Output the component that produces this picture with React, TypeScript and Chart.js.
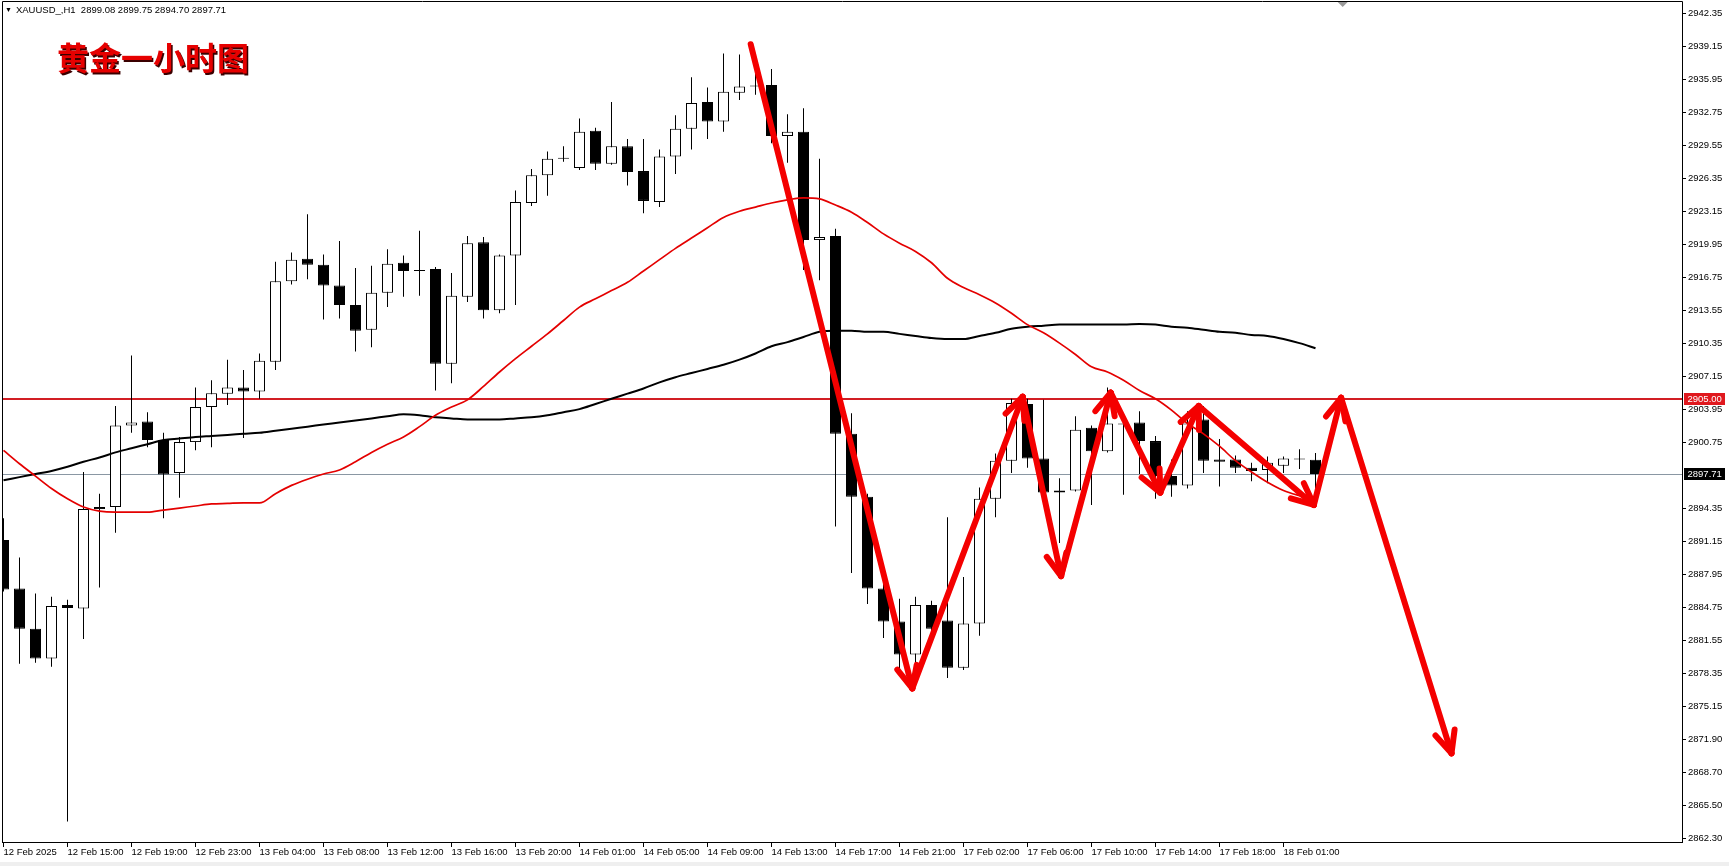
import React, { useEffect, useRef } from "react";
import { Chart, registerables } from "chart.js";

Chart.register(...registerables);

// ---------- data (XAUUSD H1, candle index 0..82) ----------
const SYMBOL = "XAUUSD_,H1";
const TITLE = "黄金一小时图";

const OPEN = [
  2891.3, 2886.6, 2882.7, 2879.8, 2885.0, 2884.65, 2894.3, 2894.5, 2902.4, 2902.8,
  2901.0, 2897.8, 2900.8, 2904.2, 2905.5, 2906.1, 2905.7, 2908.6, 2916.4, 2918.6,
  2918.0, 2916.0, 2914.1, 2911.7, 2915.3, 2918.2, 2917.5, 2917.6, 2908.4, 2914.9,
  2920.2, 2913.6, 2918.9, 2924.0, 2926.7, 2928.4, 2927.4, 2931.0, 2927.8, 2929.5,
  2927.1, 2924.1, 2928.5, 2931.2, 2933.8, 2931.9, 2934.7, 2935.4, 2935.45, 2930.5,
  2930.9, 2920.4, 2920.8, 2901.6, 2895.5, 2886.6, 2883.4, 2880.2, 2885.0, 2883.5,
  2878.9, 2883.2, 2895.3, 2899.0, 2904.5, 2899.2, 2895.9, 2896.1, 2902.2, 2899.9,
  2902.6, 2902.7, 2900.9, 2897.5, 2896.6, 2903.0, 2899.1, 2899.1, 2898.3, 2898.1,
  2898.5, 2899.2, 2899.08,
];
const HIGH = [
  2893.4, 2889.6, 2886.1, 2885.8, 2885.5, 2897.9, 2895.8, 2904.3, 2909.2, 2903.7,
  2901.7, 2901.3, 2906.1, 2906.8, 2908.8, 2907.8, 2909.4, 2918.3, 2919.2, 2922.9,
  2919.0, 2920.3, 2917.7, 2917.9, 2919.5, 2918.9, 2921.3, 2917.8, 2917.2, 2920.8,
  2920.7, 2919.0, 2925.2, 2927.3, 2929.0, 2929.5, 2932.2, 2931.3, 2933.8, 2930.2,
  2930.2, 2929.2, 2932.5, 2936.2, 2935.2, 2938.5, 2938.4, 2937.6, 2937.0, 2932.6,
  2933.2, 2928.3, 2921.5, 2903.6, 2895.8, 2887.6, 2885.6, 2885.8, 2885.4, 2893.5,
  2887.7, 2896.4, 2899.7, 2905.0, 2905.0, 2904.9, 2897.3, 2903.3, 2902.4, 2906.1,
  2902.8, 2903.8, 2901.4, 2899.1, 2903.8, 2904.3, 2901.1, 2899.5, 2898.8, 2899.4,
  2899.4, 2900.1, 2899.75,
];
const LOW = [
  2886.3, 2879.3, 2879.4, 2879.0, 2864.0, 2881.7, 2886.7, 2892.0, 2901.7, 2900.3,
  2893.4, 2895.4, 2900.0, 2900.3, 2904.4, 2901.2, 2905.0, 2907.8, 2916.1, 2916.6,
  2912.7, 2912.8, 2909.6, 2910.0, 2913.9, 2914.9, 2915.0, 2905.8, 2906.5, 2914.4,
  2912.8, 2913.3, 2914.1, 2923.7, 2924.7, 2928.0, 2927.2, 2927.2, 2927.7, 2925.7,
  2923.0, 2923.6, 2926.8, 2929.2, 2930.2, 2930.9, 2934.0, 2934.5, 2929.8, 2927.9,
  2917.5, 2916.5, 2892.6, 2888.1, 2885.1, 2881.8, 2878.5, 2878.1, 2882.0, 2877.9,
  2878.7, 2882.0, 2893.5, 2897.8, 2898.3, 2895.8, 2891.0, 2896.0, 2894.7, 2899.8,
  2895.7, 2897.7, 2895.3, 2895.5, 2896.3, 2897.8, 2896.5, 2897.8, 2897.0, 2896.8,
  2897.8, 2898.2, 2894.7,
];
const CLOSE = [
  2886.5, 2882.7, 2879.8, 2884.9, 2884.7, 2894.3, 2894.5, 2902.4, 2902.7, 2901.0,
  2897.65, 2900.8, 2904.2, 2905.55, 2906.1, 2905.7, 2908.7, 2916.4, 2918.5, 2918.0,
  2916.0, 2914.1, 2911.6, 2915.3, 2918.1, 2917.4, 2917.4, 2908.4, 2915.0, 2920.1,
  2913.6, 2918.9, 2924.1, 2926.7, 2928.3, 2928.3, 2930.9, 2927.8, 2929.5, 2927.0,
  2924.2, 2928.5, 2931.2, 2933.7, 2931.9, 2934.8, 2935.3, 2935.3, 2930.5, 2930.9,
  2920.4, 2920.7, 2901.6, 2895.5, 2886.6, 2883.4, 2880.2, 2885.0, 2882.7, 2878.9,
  2883.2, 2895.3, 2899.0, 2904.6, 2899.2, 2895.9, 2896.1, 2902.0, 2899.9, 2902.6,
  2902.5, 2900.9, 2897.5, 2896.6, 2902.6, 2899.0, 2898.9, 2898.3, 2898.0, 2898.8,
  2899.2, 2899.1, 2897.71,
];

// moving averages (one value per candle)
const MA_RED = [
  2900.0, 2898.7, 2897.5, 2896.3, 2895.3, 2894.5, 2894.1, 2894.0, 2894.0, 2894.0,
  2894.2, 2894.4, 2894.6, 2894.8, 2894.85, 2894.9, 2894.9, 2895.8, 2896.6, 2897.2,
  2897.7, 2898.1, 2898.9, 2899.8, 2900.6, 2901.3, 2902.3, 2903.4, 2904.2, 2904.9,
  2906.2, 2907.6, 2908.9, 2910.1, 2911.3, 2912.6, 2913.9, 2914.7, 2915.5, 2916.3,
  2917.4, 2918.5, 2919.6, 2920.6, 2921.6, 2922.6, 2923.2, 2923.6, 2924.0, 2924.3,
  2924.5, 2924.4, 2923.8, 2923.1, 2922.1, 2921.0, 2920.1, 2919.3, 2918.2, 2916.7,
  2915.8, 2915.1, 2914.3, 2913.3, 2912.2, 2911.4, 2910.4, 2909.3, 2908.1, 2907.6,
  2906.8, 2905.8, 2905.0, 2903.9, 2902.6, 2901.6, 2900.4, 2899.0, 2897.9, 2896.9,
  2896.1, 2895.6, 2895.2,
];
const MA_BLACK = [
  2897.1, 2897.4, 2897.7, 2898.0, 2898.4, 2898.9, 2899.3, 2899.8, 2900.2, 2900.6,
  2901.0, 2901.15, 2901.3, 2901.4, 2901.5, 2901.6, 2901.7, 2901.9, 2902.1, 2902.3,
  2902.5, 2902.7, 2902.9, 2903.1, 2903.3, 2903.5, 2903.4, 2903.2, 2903.1, 2903.0,
  2903.0, 2903.0, 2903.1, 2903.2, 2903.4, 2903.7, 2904.0, 2904.5, 2905.0, 2905.5,
  2906.0, 2906.6, 2907.1, 2907.5, 2907.9, 2908.3, 2908.8, 2909.4, 2910.1, 2910.5,
  2911.0, 2911.5, 2911.6, 2911.6, 2911.5, 2911.5, 2911.3, 2911.1, 2910.9, 2910.8,
  2910.8, 2911.1, 2911.4, 2911.8, 2912.0, 2912.1, 2912.2, 2912.2, 2912.2, 2912.2,
  2912.2, 2912.25, 2912.2, 2912.0, 2911.9, 2911.7, 2911.5, 2911.4, 2911.2, 2911.1,
  2910.8, 2910.4, 2909.9,
];

const X_TICK_INDEX = [0, 4, 8, 12, 16, 20, 24, 28, 32, 36, 40, 44, 48, 52, 56, 60, 64, 68, 72, 76, 80];
const X_TICK_LABELS = [
  "12 Feb 2025", "12 Feb 15:00", "12 Feb 19:00", "12 Feb 23:00", "13 Feb 04:00",
  "13 Feb 08:00", "13 Feb 12:00", "13 Feb 16:00", "13 Feb 20:00", "14 Feb 01:00",
  "14 Feb 05:00", "14 Feb 09:00", "14 Feb 13:00", "14 Feb 17:00", "14 Feb 21:00",
  "17 Feb 02:00", "17 Feb 06:00", "17 Feb 10:00", "17 Feb 14:00", "17 Feb 18:00",
  "18 Feb 01:00",
];

const Y_TICK_VALUES = [
  2942.35, 2939.15, 2935.95, 2932.75, 2929.55, 2926.35, 2923.15, 2919.95, 2916.75,
  2913.55, 2910.35, 2907.15, 2903.95, 2900.75, 2894.35, 2891.15, 2887.95, 2884.75,
  2881.55, 2878.35, 2875.15, 2871.95, 2868.75, 2865.55, 2862.35,
];
const Y_TICK_LABELS = [
  "2942.35", "2939.15", "2935.95", "2932.75", "2929.55", "2926.35", "2923.15", "2919.95", "2916.75",
  "2913.55", "2910.35", "2907.15", "2903.95", "2900.75", "2894.35", "2891.15", "2887.95", "2884.75",
  "2881.55", "2878.35", "2875.15", "2871.90", "2868.70", "2865.50", "2862.30",
];

const LEVEL_RESIST = 2905.0;
const LEVEL_CURRENT = 2897.71;

// hand-drawn arrow path (candle index, price)
const ARROW_X = [46.7, 56.8, 63.7, 66.1, 69.2, 72.3, 74.7, 81.9, 83.6, 90.5];
const ARROW_Y = [2939.4, 2876.9, 2905.2, 2887.8, 2905.6, 2895.9, 2904.3, 2894.7, 2905.1, 2870.6];

const SHIFT_MARK_INDEX = 83.7;

// ---------- layout / style ----------
const W = 1729;
const H = 866;
const X_MIN = -0.09375;
const X_MAX = 104.90625;
const Y_MIN = 2862.0;
const Y_MAX = 2943.5;
const AXIS_FONT = "'Liberation Sans', Arial, sans-serif";

const overlayPlugin = {
  id: "mtOverlay",
  beforeDatasetsDraw(chart: any) {
    const { ctx, chartArea: a, scales } = chart;
    const y = scales.y;
    ctx.save();
    ctx.beginPath();
    ctx.rect(a.left, a.top, a.right - a.left, a.bottom - a.top);
    ctx.clip();
    const yc = Math.round(y.getPixelForValue(LEVEL_CURRENT)) + 0.5;
    ctx.strokeStyle = "#8a97a3";
    ctx.lineWidth = 1;
    ctx.beginPath();
    ctx.moveTo(a.left, yc);
    ctx.lineTo(a.right, yc);
    ctx.stroke();
    const yr = Math.round(y.getPixelForValue(LEVEL_RESIST));
    ctx.strokeStyle = "#d21e24";
    ctx.lineWidth = 2;
    ctx.beginPath();
    ctx.moveTo(a.left, yr);
    ctx.lineTo(a.right, yr);
    ctx.stroke();
    ctx.restore();
  },
  afterDatasetsDraw(chart: any) {
    const { ctx, chartArea: a, scales } = chart;
    const x = scales.x;
    const y = scales.y;
    ctx.save();
    ctx.beginPath();
    ctx.rect(a.left, a.top, a.right - a.left, a.bottom - a.top);
    ctx.clip();
    ctx.strokeStyle = "#f40000";
    ctx.lineWidth = 6;
    ctx.lineCap = "round";
    ctx.lineJoin = "round";
    for (let k = 0; k < ARROW_X.length - 1; k++) {
      const px = x.getPixelForValue(ARROW_X[k]);
      const py = y.getPixelForValue(ARROW_Y[k]);
      const qx = x.getPixelForValue(ARROW_X[k + 1]);
      const qy = y.getPixelForValue(ARROW_Y[k + 1]);
      ctx.beginPath();
      ctx.moveTo(px, py);
      ctx.lineTo(qx, qy);
      ctx.stroke();
      const ang = Math.atan2(qy - py, qx - px);
      for (const s of [-1, 1]) {
        const a2 = ang + Math.PI + s * 0.43;
        ctx.beginPath();
        ctx.moveTo(qx, qy);
        ctx.lineTo(qx + 24 * Math.cos(a2), qy + 24 * Math.sin(a2));
        ctx.stroke();
      }
    }
    ctx.restore();
  },
  afterDraw(chart: any) {
    const { ctx, chartArea: a, scales } = chart;
    const x = scales.x;
    const y = scales.y;
    ctx.save();
    // frame
    ctx.strokeStyle = "#000";
    ctx.lineWidth = 1;
    const l = Math.floor(a.left) + 0.5;
    const t = Math.floor(a.top) - 0.5;
    const r = Math.round(a.right) + 0.5;
    const b = Math.round(a.bottom) + 0.5;
    ctx.beginPath();
    ctx.moveTo(l, b);
    ctx.lineTo(l, t);
    ctx.lineTo(r, t);
    ctx.lineTo(r, b);
    ctx.lineTo(l, b);
    ctx.stroke();
    // price boxes on axis
    const boxes = [
      { v: LEVEL_RESIST, bg: "#e0181e" },
      { v: LEVEL_CURRENT, bg: "#000000" },
    ];
    ctx.font = `9.5px ${AXIS_FONT}`;
    ctx.textBaseline = "middle";
    ctx.textAlign = "left";
    for (const bx of boxes) {
      const yy = Math.round(y.getPixelForValue(bx.v));
      ctx.fillStyle = bx.bg;
      ctx.fillRect(r + 1.5, yy - 6, 41, 12);
      ctx.fillStyle = "#fff";
      ctx.fillText(bx.v.toFixed(2), r + 5, yy + 0.5);
    }
    // chart-shift marker
    const mx = x.getPixelForValue(SHIFT_MARK_INDEX);
    ctx.fillStyle = "#9a9a9a";
    ctx.beginPath();
    ctx.moveTo(mx - 5, a.top);
    ctx.lineTo(mx + 5, a.top);
    ctx.lineTo(mx, a.top + 5);
    ctx.closePath();
    ctx.fill();
    // bottom strip
    ctx.fillStyle = "#efefef";
    ctx.fillRect(0, H - 4, W, 4);
    ctx.restore();
  },
};

export default function App() {
  const ref = useRef<HTMLCanvasElement | null>(null);

  useEffect(() => {
    const canvas = ref.current;
    if (!canvas) return;
    const idx = OPEN.map((_, i) => i);
    const bodyColors = idx.map((i) => (CLOSE[i] >= OPEN[i] ? "#ffffff" : "#000000"));

    const chart = new Chart(canvas, {
      type: "bar",
      data: {
        datasets: [
          {
            type: "line",
            label: "MA red",
            data: idx.map((i) => ({ x: i, y: MA_RED[i] })),
            borderColor: "#e40000",
            borderWidth: 1.7,
            pointRadius: 0,
            cubicInterpolationMode: "monotone",
            order: 1,
          } as any,
          {
            type: "line",
            label: "MA black",
            data: idx.map((i) => ({ x: i, y: MA_BLACK[i] })),
            borderColor: "#000000",
            borderWidth: 2,
            pointRadius: 0,
            cubicInterpolationMode: "monotone",
            order: 2,
          } as any,
          {
            type: "bar",
            label: "bodies",
            data: idx.map((i) => ({ x: i, y: [OPEN[i], CLOSE[i]] })),
            backgroundColor: bodyColors,
            borderColor: "#000000",
            borderWidth: 1,
            borderSkipped: false,
            grouped: false,
            barThickness: 11,
            maxBarThickness: 11,
            minBarLength: 1,
            inflateAmount: 0,
            order: 3,
          } as any,
          {
            type: "bar",
            label: "wicks",
            data: idx.map((i) => ({ x: i, y: [LOW[i], HIGH[i]] })),
            backgroundColor: "#000000",
            borderWidth: 0,
            grouped: false,
            barThickness: 1,
            maxBarThickness: 1,
            inflateAmount: 0,
            order: 4,
          } as any,
        ],
      },
      options: {
        animation: false,
        responsive: false,
        maintainAspectRatio: false,
        events: [],
        layout: { padding: { left: 2, top: 2, right: 0, bottom: 0 } },
        plugins: {
          legend: { display: false },
          tooltip: { enabled: false },
          title: { display: false },
        },
        scales: {
          x: {
            type: "linear",
            min: X_MIN,
            max: X_MAX,
            offset: false,
            afterBuildTicks: (s: any) => {
              s.ticks = X_TICK_INDEX.map((v) => ({ value: v }));
            },
            afterFit: (s: any) => {
              s.height = 24;
              s.paddingLeft = 0;
              s.paddingRight = 0;
              s.paddingTop = 0;
              s.paddingBottom = 0;
            },
            grid: { display: true, drawOnChartArea: false, drawTicks: true, tickLength: 5, color: "#000", offset: false },
            border: { display: true, color: "#000" },
            ticks: {
              autoSkip: false,
              maxRotation: 0,
              minRotation: 0,
              align: "start",
              padding: 0,
              color: "#000",
              font: { family: AXIS_FONT, size: 9.5 },
              callback: (_v: any, i: number) => X_TICK_LABELS[i],
            },
          },
          y: {
            type: "linear",
            position: "right",
            min: Y_MIN,
            max: Y_MAX,
            afterBuildTicks: (s: any) => {
              s.ticks = Y_TICK_VALUES.map((v) => ({ value: v }));
            },
            afterFit: (s: any) => {
              s.width = 47;
              s.paddingLeft = 0;
              s.paddingRight = 0;
              s.paddingTop = 0;
              s.paddingBottom = 0;
            },
            grid: { display: true, drawOnChartArea: false, drawTicks: true, tickLength: 4, color: "#000" },
            border: { display: true, color: "#000" },
            ticks: {
              autoSkip: false,
              padding: 2,
              color: "#000",
              font: { family: AXIS_FONT, size: 9.5 },
              callback: (_v: any, i: number) => Y_TICK_LABELS[i],
            },
          },
        },
      } as any,
      plugins: [overlayPlugin],
    });
    return () => chart.destroy();
  }, []);

  const last = OPEN.length - 1;
  const header = `${SYMBOL}  ${OPEN[last].toFixed(2)} ${HIGH[last].toFixed(2)} ${LOW[last].toFixed(2)} ${CLOSE[last].toFixed(2)}`;

  return (
    <div style={{ position: "absolute", left: 0, top: 0, width: W, height: H, background: "#fff", overflow: "hidden" }}>
      <canvas ref={ref} width={W} height={H} style={{ display: "block", width: W, height: H }} />
      <div
        style={{
          position: "absolute",
          left: 5,
          top: 4,
          font: `9.5px ${AXIS_FONT}`,
          color: "#000",
          whiteSpace: "pre",
          lineHeight: "12px",
        }}
      >
        <span style={{ fontSize: 7, marginRight: 4, verticalAlign: "1px" }}>▼</span>
        {header}
      </div>
      <div
        style={{
          position: "absolute",
          left: 57,
          top: 40,
          fontFamily: "'Noto Sans CJK SC', sans-serif",
          fontWeight: 700,
          fontSize: 32,
          lineHeight: "32px",
          color: "#e60000",
          textShadow: "1.5px 1.5px 0 #3a0000",
          whiteSpace: "nowrap",
        }}
      >
        {TITLE}
      </div>
    </div>
  );
}
